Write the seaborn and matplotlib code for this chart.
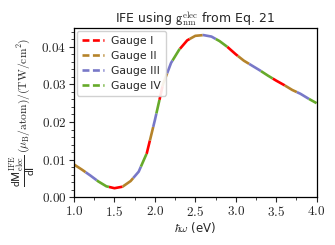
import seaborn as sns
import pandas as pd
import matplotlib.pyplot as plt
import numpy as np
from matplotlib.lines import Line2D
import matplotlib.ticker as ticker

energy = [1.0, 1.1, 1.2, 1.3, 1.4, 1.5, 1.6, 1.7, 1.8, 1.9,
          2.0, 2.1, 2.2, 2.3, 2.4, 2.5, 2.6, 2.7, 2.8, 2.9,
          3.0, 3.1, 3.2, 3.3, 3.4, 3.5, 3.6, 3.7, 3.8, 3.9, 4.0]
dmdi = [0.0087, 0.0073, 0.0058, 0.0042, 0.0029, 0.0024, 0.0028, 0.0043, 0.0068, 0.0117,
        0.0205, 0.0300, 0.0357, 0.0392, 0.0417, 0.0429, 0.0431, 0.0427, 0.0415, 0.0399,
        0.0380, 0.0363, 0.0350, 0.0337, 0.0323, 0.0310, 0.0298, 0.0285, 0.0275, 0.0262, 0.0250]
gauges = ['Gauge I', 'Gauge II', 'Gauge III', 'Gauge IV']
colors = ['#ff0000', '#b5832a', '#7878c8', '#66aa2a']

sns.set_theme(style='ticks')
plt.rcParams['font.family'] = ['DejaVu Sans']
plt.rcParams['mathtext.fontset'] = 'cm'
plt.rcParams['lines.scale_dashes'] = False

df = pd.DataFrame({'E': energy, 'M': dmdi})

fig = plt.figure(figsize=(3.35, 2.45), dpi=100)
ax = fig.add_axes([0.221, 0.195, 0.724, 0.691])

L = 10
# colour order along the curve: II, III, IV, I
offsets = {'Gauge I': L, 'Gauge II': 0, 'Gauge III': 3 * L, 'Gauge IV': 2 * L}
for g, c in zip(gauges, colors):
    sns.lineplot(data=df, x='E', y='M', ax=ax, color=c, lw=1.9,
                 linestyle=(offsets[g], (L, 3 * L)), legend=False)

handles = [Line2D([], [], color=c, lw=1.9, linestyle=(0, (5, 2.5))) for c in colors]
leg = ax.legend(handles, gauges, loc='upper left', fontsize=7.8, handlelength=2.0,
                borderpad=0.45, labelspacing=0.45, handletextpad=0.7,
                borderaxespad=0.3, fancybox=True, framealpha=0.9)
leg.get_frame().set_edgecolor('#cccccc')

ax.set_xlim(1.0, 4.0)
ax.set_ylim(0, 0.045)
ax.xaxis.set_major_locator(ticker.MultipleLocator(0.5))
ax.xaxis.set_minor_locator(ticker.MultipleLocator(0.25))
ax.yaxis.set_major_locator(ticker.MultipleLocator(0.01))
ax.yaxis.set_minor_locator(ticker.MultipleLocator(0.002))
ax.xaxis.set_major_formatter(ticker.FuncFormatter(lambda v, p: r'$%.1f$' % v))
ax.yaxis.set_major_formatter(ticker.FuncFormatter(lambda v, p: r'$%.2f$' % v))
ax.tick_params(which='major', length=3.5, width=0.8, labelsize=9.5, pad=2)
ax.tick_params(which='minor', length=2, width=0.6)
for s in ax.spines.values():
    s.set_linewidth(0.9)
    s.set_color('black')

ax.set_title(r'IFE using $\mathsf{g}^{\mathrm{elec}}_{\mathrm{nm}}$ from Eq. 21', fontsize=9, pad=4)
ax.set_xlabel(r'$\hbar\omega$ (eV)', fontsize=8.5, labelpad=1)
ax.set_ylabel(r'$\dfrac{\mathsf{dM}^{\mathrm{IFE}}_{\mathrm{elec}}}{\mathsf{dI}}\,(\mu_{\mathrm{B}}/\mathrm{atom})/(\mathrm{TW/cm^2})$',
              fontsize=8.3, labelpad=2)

fig.savefig('out.png', dpi=100)
